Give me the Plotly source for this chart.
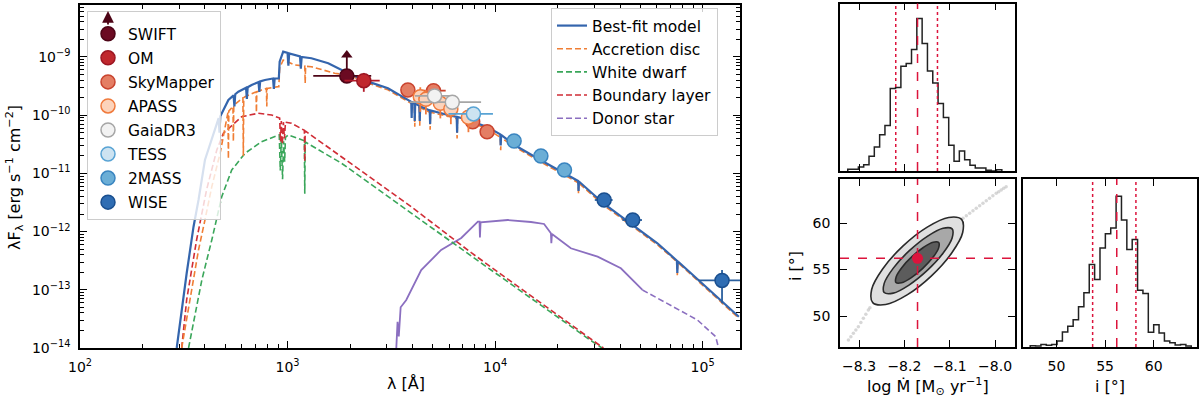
import numpy as np
import plotly.graph_objects as go

W, H = 1200, 398
FONT = "DejaVu Sans"

# ---------------- photometry: wavelength [A], lambda*F_lambda [erg s-1 cm-2] ----------------
swift_wl = [1930]
swift_flux = [4.72e-10]
swift_wl_err = [600]
swift_limit_top = [1.08e-9]

om_wl = [2330]
om_flux = [3.92e-10]
om_wl_err = [450]
om_flux_err = [1.4e-10]

skymapper_wl = [3800, 5050, 7800, 9150]
skymapper_flux = [2.71e-10, 2.64e-10, 7.7e-11, 5.2e-11]
skymapper_wl_err = [0, 730, 0, 0]
skymapper_flux_err = [2.5e-11, 2.5e-11, 8e-12, 6e-12]

apass_wl = [4361, 4640, 5448, 6122, 7439]
apass_flux = [2.08e-10, 1.87e-10, 1.60e-10, 1.28e-10, 9.2e-11]
apass_flux_err = [0.94e-10, 0.84e-10, 0.72e-10, 0.58e-10, 0.41e-10]

gaia_wl = [5110, 6220]
gaia_flux = [2.14e-10, 1.67e-10]
gaia_wl_err = [1000, 2340]

tess_wl = [7865]
tess_flux = [1.05e-10]
tess_wl_err = [1900]

twomass_wl = [12350, 16620, 21590]
twomass_flux = [3.6e-11, 1.99e-11, 1.14e-11]
twomass_flux_err = [2.0e-12, 1.2e-12, 8e-13]

wise_wl = [33530, 46030, 124000]
wise_flux = [3.49e-12, 1.58e-12, 1.45e-13]
wise_wl_err = [3300, 5000, 29000]
wise_flux_err_up = [2e-13, 1.5e-13, 7.4e-14]
wise_flux_err_down = [2e-13, 1.5e-13, 8.6e-14]

# ---------------- model components (log10 wavelength, log10 flux) ----------------
bestfit_logwl = [2.466, 2.490, 2.514, 2.547, 2.571, 2.602, 2.650, 2.668, 2.672, 2.676, 2.691, 2.715,
                 2.740, 2.744, 2.748, 2.763, 2.800, 2.804, 2.808, 2.827, 2.860, 2.864, 2.868, 2.891,
                 2.930, 2.934, 2.938, 2.955, 2.958, 2.962, 2.979, 3.000, 3.004, 3.008, 3.035, 3.060,
                 3.064, 3.068, 3.115, 3.196, 3.292, 3.388, 3.484, 3.564, 3.596, 3.598, 3.600, 3.611,
                 3.613, 3.615, 3.635, 3.637, 3.639, 3.644, 3.685, 3.687, 3.689, 3.773, 3.815, 3.817,
                 3.819, 3.869, 3.933, 3.965, 4.025, 4.027, 4.029, 4.093, 4.218, 4.3365, 4.400, 4.402,
                 4.404, 4.5255, 4.667, 4.782, 4.876, 4.878, 4.880, 5.1745]
bestfit_logflux = [-14.0, -13.347, -12.716, -11.916, -11.457, -10.770, -10.254, -10.05, -10.30, -10.02, -9.911, -9.739,
                   -9.66, -9.85, -9.64, -9.596, -9.53, -9.72, -9.52, -9.481, -9.43, -9.60, -9.42, -9.395,
                   -9.37, -9.55, -9.37, -9.366, -9.37, -9.08, -8.909, -8.93, -9.15, -8.94, -8.966, -8.99,
                   -9.20, -9.00, -9.022, -9.108, -9.280, -9.424, -9.538, -9.710, -9.77, -10.05, -9.77, -9.80,
                   -10.10, -9.80, -9.84, -10.10, -9.84, -9.854, -9.92, -10.15, -9.92, -9.997, -10.03, -10.30,
                   -10.03, -10.082, -10.168, -10.208, -10.33, -10.52, -10.34, -10.512, -10.770, -11.010, -11.13, -11.30,
                   -11.14, -11.526, -11.904, -12.201, -12.50, -12.71, -12.51, -13.462]

disc_logwl = [2.490, 2.514, 2.547, 2.571, 2.602, 2.635, 2.675, 2.699, 2.713, 2.715, 2.717, 2.737,
              2.739, 2.741, 2.785, 2.787, 2.789, 2.795, 2.848, 2.850, 2.852, 2.875, 2.898, 2.900,
              2.902, 2.955, 2.958, 2.962, 2.979, 3.035, 3.083, 3.085, 3.087, 3.115, 3.227, 3.292,
              3.388, 3.484, 3.564, 3.611, 3.613, 3.615, 3.635, 3.637, 3.639, 3.644, 3.685, 3.687,
              3.689, 3.773, 3.815, 3.817, 3.819, 3.869, 3.933, 3.965, 4.025, 4.027, 4.029, 4.093,
              4.218, 4.3365, 4.400, 4.402, 4.404, 4.5255, 4.667, 4.782, 4.876, 4.878, 4.880, 5.1745]
disc_logflux = [-14.0, -13.519, -12.832, -12.316, -11.801, -11.229, -10.655, -10.198, -9.95, -10.75, -9.93, -9.85,
                -10.45, -9.83, -9.70, -10.70, -9.70, -9.682, -9.60, -9.95, -9.60, -9.567, -9.54, -9.85,
                -9.54, -9.510, -9.51, -9.19, -9.052, -9.137, -9.155, -9.45, -9.16, -9.167, -9.280, -9.31,
                -9.45, -9.565, -9.735, -9.83, -10.20, -9.83, -9.87, -10.18, -9.87, -9.88, -9.95, -10.25,
                -9.95, -10.02, -10.06, -10.40, -10.06, -10.105, -10.20, -10.24, -10.38, -10.60, -10.39, -10.54,
                -10.80, -11.04, -11.16, -11.35, -11.17, -11.555, -11.93, -12.225, -12.52, -12.75, -12.53, -13.49]

wd_logwl = [2.523, 2.554, 2.587, 2.635, 2.683, 2.731, 2.795, 2.875, 2.955, 2.960, 2.965, 2.970,
            2.976, 2.981, 2.986, 2.990, 3.003, 3.081, 3.083, 3.085, 3.260, 3.596, 3.885, 4.446, 4.515]
wd_logflux = [-14.0, -13.404, -12.832, -12.144, -11.40, -10.942, -10.655, -10.455, -10.34, -10.34, -10.95, -10.40,
              -11.10, -10.45, -10.80, -10.38, -10.34, -10.44, -11.35, -10.46, -10.826, -11.686, -12.419, -13.833, -14.0]

bl_logwl = [2.490, 2.514, 2.562, 2.610, 2.659, 2.691, 2.779, 2.859, 2.923, 2.955, 2.962, 2.966,
            2.970, 2.975, 2.980, 2.985, 2.990, 3.019, 3.081, 3.083, 3.085, 3.596, 3.885, 4.446, 4.522]
bl_logflux = [-14.0, -13.17, -12.14, -11.28, -10.60, -10.311, -10.026, -9.967, -9.997, -10.05, -10.05, -10.45,
              -10.10, -10.50, -10.12, -10.40, -10.12, -10.14, -10.26, -10.80, -10.27, -11.572, -12.363, -13.806, -14.0]

donor_logwl = [3.524, 3.530, 3.536, 3.545, 3.572, 3.644, 3.740, 3.837, 3.917, 3.925, 3.927, 3.930, 4.061, 4.173,
               4.236, 4.269, 4.271, 4.274, 4.365, 4.494, 4.606, 4.686, 4.710]
donor_logflux = [-14.0, -13.55, -13.80, -13.30, -13.175, -12.660, -12.316, -12.110, -11.830, -11.83, -12.10, -11.84,
                 -11.801, -11.835, -11.869, -12.029, -12.20, -12.04, -12.287, -12.431, -12.631, -12.918, -13.003]
donor_ext_logwl = [4.710, 4.846, 4.975, 5.063, 5.078]
donor_ext_logflux = [-13.003, -13.261, -13.519, -13.806, -14.02]

# ---------------- posterior (corner plot) ----------------
mdot_hist_start = -8.3249
mdot_hist_width = 0.01172
mdot_hist_counts = [5, 5, 12, 19, 44, 72, 109, 136, 247, 250, 314, 322, 364, 457, 382,
                    300, 264, 202, 160, 77, 29, 60, 34, 17, 9, 9, 2, 0, 4]
incl_hist_start = 47.3
incl_hist_width = 0.552
incl_hist_counts = [4, 3, 8, 5, 8, 18, 46, 63, 83, 123, 166, 252, 206, 302, 346,
                    363, 460, 388, 298, 328, 173, 163, 45, 68, 43, 18, 13, 6, 8, 3]

mdot_median, mdot_lo, mdot_hi = -8.171, -8.219, -8.127
incl_median, incl_lo, incl_hi = 56.2, 53.72, 58.17

outer_mdot = [-8.0738, -8.0714, -8.0960, -8.1408, -8.1940, -8.2412, -8.2698, -8.2722, -8.2476, -8.2028, -8.1496, -8.1024, -8.0738]
outer_incl = [60.39, 58.98, 56.75, 54.29, 52.27, 51.23, 51.44, 52.85, 55.08, 57.54, 59.56, 60.60, 60.39]
mid_mdot = [-8.0947, -8.0947, -8.1148, -8.1496, -8.1898, -8.2245, -8.2445, -8.2445, -8.2244, -8.1896, -8.1494, -8.1147, -8.0947]
mid_incl = [59.37, 58.39, 56.75, 54.90, 53.33, 52.46, 52.53, 53.51, 55.15, 57.00, 58.57, 59.44, 59.37]
inner_mdot = [-8.1243, -8.1246, -8.1374, -8.1594, -8.1846, -8.2062, -8.2185, -8.2182, -8.2054, -8.1834, -8.1582, -8.1366, -8.1243]
inner_incl = [57.90, 57.30, 56.28, 55.13, 54.13, 53.58, 53.60, 54.20, 55.22, 56.38, 57.37, 57.93, 57.90]

tail_mdot = [-8.3234, -8.3180, -8.3125, -8.3070, -8.3015, -8.2960, -8.2905, -8.2850, -8.2795, -8.2760,
             -8.0707, -8.0634, -8.0560, -8.0487, -8.0414, -8.0340, -8.0267, -8.0194, -8.0121,
             -8.0048, -7.9974, -7.9919, -7.9864, -7.9810, -7.9755]
tail_incl = [47.42, 47.78, 48.14, 48.50, 48.85, 49.30, 49.75, 50.20, 50.65, 50.90,
             60.50, 60.77, 61.04, 61.31, 61.58, 61.85, 62.11, 62.38, 62.65,
             62.92, 63.19, 63.37, 63.55, 63.73, 63.91]

fig = go.Figure()

# model curves
def model(logwl, logflux, name, color, dash, rank, show=True, width=1.6):
    fig.add_trace(go.Scatter(x=10 ** np.array(logwl), y=10 ** np.array(logflux), mode="lines",
                             name=name, legend="legend2", legendrank=rank, showlegend=show,
                             line=dict(color=color, width=width, dash=dash),
                             xaxis="x", yaxis="y", hoverinfo="skip"))

model(donor_logwl, donor_logflux, "Donor star", "#8b6fc0", "solid", 5, show=False, width=1.8)
model(donor_ext_logwl, donor_ext_logflux, "Donor star", "#8b6fc0", "6px,3px", 5)
model(wd_logwl, wd_logflux, "White dwarf", "#3aa65a", "6px,3px", 3)
model(bl_logwl, bl_logflux, "Boundary layer", "#d02d36", "6px,3px", 4)
model(disc_logwl, disc_logflux, "Accretion disc", "#f07e35", "6px,3px", 2)
model(bestfit_logwl, bestfit_logflux, "Best-fit model", "#3465ad", "solid", 1, width=2.2)

# photometry
def phot(name, wl, fl, fill, edge, ecol, rank, ex=None, ey=None, eym=None):
    kw = dict(x=wl, y=fl, mode="markers", name=name, legend="legend", legendrank=rank, legendgroup=name,
              marker=dict(size=14, color=fill, line=dict(color=edge, width=1.5)),
              xaxis="x", yaxis="y")
    if ex is not None:
        kw["error_x"] = dict(type="data", array=ex, color=ecol, thickness=1.8, width=0)
    if ey is not None:
        kw["error_y"] = dict(type="data", array=ey, arrayminus=eym if eym is not None else ey,
                             color=ecol, thickness=1.8, width=0)
    fig.add_trace(go.Scatter(**kw))

fig.add_trace(go.Scatter(x=swift_wl * 2, y=[swift_flux[0], swift_limit_top[0]], mode="lines",
                         line=dict(color="#4d0416", width=1.8), showlegend=False, xaxis="x", yaxis="y"))
fig.add_trace(go.Scatter(x=swift_wl, y=swift_limit_top, mode="markers", showlegend=False,
                         marker=dict(symbol="triangle-up", size=10, color="#4d0416"), xaxis="x", yaxis="y"))
phot("SWIFT", swift_wl, swift_flux, "#6b0a22", "#4d0416", "#4d0416", 1, ex=swift_wl_err)
phot("OM", om_wl, om_flux, "#c0282e", "#9c1622", "#b31b2a", 2, ex=om_wl_err, ey=om_flux_err)
phot("SkyMapper", skymapper_wl, skymapper_flux, "#e47e64", "#c9432e", "#c9432e", 3,
     ex=skymapper_wl_err, ey=skymapper_flux_err)
phot("APASS", apass_wl, apass_flux, "#fcd3bb", "#f07a3c", "#f07a3c", 4, ey=apass_flux_err)
phot("GaiaDR3", gaia_wl, gaia_flux, "#f2f2f2", "#a6a6a6", "#a6a6a6", 5, ex=gaia_wl_err)
phot("TESS", tess_wl, tess_flux, "#cde3f1", "#58a3d4", "#58a3d4", 6, ex=tess_wl_err)
phot("2MASS", twomass_wl, twomass_flux, "#6baed6", "#3a85c0", "#3a85c0", 7, ey=twomass_flux_err)
phot("WISE", wise_wl, wise_flux, "#2f6db3", "#1a4f8f", "#2a5f9e", 8, ex=wise_wl_err,
     ey=wise_flux_err_up, eym=wise_flux_err_down)

# histograms as steps
def step_hist(start, width, counts, xa, ya):
    edges = start + width * np.arange(len(counts) + 1)
    xs = [edges[0]] + list(edges[:-1]) + [edges[-1], edges[-1]]
    ys = [0] + list(counts) + [counts[-1], 0]
    fig.add_trace(go.Scatter(x=xs, y=ys, mode="lines", line=dict(color="#222222", width=1.5, shape="hv"),
                             showlegend=False, xaxis=xa, yaxis=ya, hoverinfo="skip"))

step_hist(mdot_hist_start, mdot_hist_width, mdot_hist_counts, "x2", "y2")
step_hist(incl_hist_start, incl_hist_width, incl_hist_counts, "x4", "y4")

# 2D posterior
fig.add_trace(go.Scatter(x=tail_mdot, y=tail_incl, mode="markers", showlegend=False,
                         marker=dict(size=3.5, color="rgba(140,140,140,0.35)"), xaxis="x3", yaxis="y3"))
for cx, cy, fillc in [(outer_mdot, outer_incl, "rgba(0,0,0,0.12)"),
                      (mid_mdot, mid_incl, "rgba(0,0,0,0.25)"),
                      (inner_mdot, inner_incl, "rgba(0,0,0,0.45)")]:
    fig.add_trace(go.Scatter(x=cx, y=cy, mode="lines", fill="toself", fillcolor=fillc,
                             line=dict(color="#2a2a2a", width=1.6, shape="spline", smoothing=1.0),
                             showlegend=False, xaxis="x3", yaxis="y3", hoverinfo="skip"))
fig.add_trace(go.Scatter(x=[mdot_median], y=[incl_median], mode="markers", showlegend=False,
                         marker=dict(size=11, color="crimson"), xaxis="x3", yaxis="y3"))

shapes = []
def vline(x, xa, ya, dash):
    shapes.append(dict(type="line", xref=xa, yref=ya + " domain", x0=x, x1=x, y0=0, y1=1,
                       line=dict(color="crimson", width=1.5, dash=dash)))

for v, d in [(mdot_median, "dash"), (mdot_lo, "dot"), (mdot_hi, "dot")]:
    vline(v, "x2", "y2", d)
for v, d in [(incl_median, "dash"), (incl_lo, "dot"), (incl_hi, "dot")]:
    vline(v, "x4", "y4", d)
vline(mdot_median, "x3", "y3", "dash")
shapes.append(dict(type="line", xref="x3 domain", yref="y3", x0=0, x1=1, y0=incl_median, y1=incl_median,
                   line=dict(color="crimson", width=1.5, dash="dash")))

def dom_x(a, b):
    return [a / W, b / W]

def dom_y(top, bottom):
    return [1 - bottom / H, 1 - top / H]

frame = dict(showline=True, linecolor="black", linewidth=1.5, mirror="allticks", ticks="inside",
             ticklen=7, tickwidth=1.3, tickcolor="black", showgrid=False, zeroline=False, automargin=False,
             tickfont=dict(family=FONT, size=14, color="black"), ticklabelstandoff=5)

decade_minor_x = [m * 10 ** e for e in range(2, 6) for m in range(2, 10)]
decade_minor_y = [m * 10.0 ** e for e in range(-14, -8) for m in range(2, 10)]
minor = dict(ticks="inside", ticklen=4, tickwidth=1, tickcolor="black")

legend_style = dict(xanchor="left", yanchor="top", bgcolor="rgba(255,255,255,0.8)",
                    bordercolor="#cccccc", borderwidth=1,
                    font=dict(family=FONT, size=15.5, color="black"))

fig.update_layout(
    width=W, height=H, margin=dict(l=0, r=0, t=0, b=0, autoexpand=False),
    paper_bgcolor="white", plot_bgcolor="white",
    font=dict(family=FONT, color="black"),
    xaxis=dict(frame, type="log", domain=dom_x(80, 740), anchor="y", range=[2, 5.18],
               tickvals=[1e2, 1e3, 1e4, 1e5],
               ticktext=["10<sup>2</sup>", "10<sup>3</sup>", "10<sup>4</sup>", "10<sup>5</sup>"],
               minor=dict(minor, tickvals=decade_minor_x)),
    yaxis=dict(frame, type="log", domain=dom_y(5, 348), anchor="x", range=[-14, -8.107],
               tickvals=[1e-14, 1e-13, 1e-12, 1e-11, 1e-10, 1e-9],
               ticktext=["10<sup>−14</sup>", "10<sup>−13</sup>", "10<sup>−12</sup>",
                         "10<sup>−11</sup>", "10<sup>−10</sup>", "10<sup>−9</sup>"],
               minor=dict(minor, tickvals=decade_minor_y)),
    xaxis2=dict(frame, domain=dom_x(840, 1015), anchor="y2", range=[-8.342, -7.956],
                tickvals=[-8.3, -8.2, -8.1, -8.0], showticklabels=False),
    yaxis2=dict(frame, domain=dom_y(3.5, 171), anchor="x2", range=[0, 502], ticks="", showticklabels=False),
    xaxis3=dict(frame, domain=dom_x(840, 1015), anchor="y3", range=[-8.342, -7.956],
                tickvals=[-8.3, -8.2, -8.1, -8.0], ticktext=["−8.3", "−8.2", "−8.1", "−8.0"]),
    yaxis3=dict(frame, domain=dom_y(179, 347), anchor="x3", range=[46.67, 64.73],
                tickvals=[50, 55, 60], ticktext=["50", "55", "60"]),
    xaxis4=dict(frame, domain=dom_x(1023, 1197), anchor="y4", range=[46.56, 64.45],
                tickvals=[50, 55, 60], ticktext=["50", "55", "60"]),
    yaxis4=dict(frame, domain=dom_y(179, 347), anchor="x4", range=[0, 513], ticks="", showticklabels=False),
    legend=dict(legend_style, x=87 / W, y=1 - 11 / H, traceorder="grouped", tracegroupgap=0.9,
                title=dict(text=" ", font=dict(size=4))),
    legend2=dict(legend_style, x=551 / W, y=1 - 8 / H, traceorder="normal"),
    shapes=shapes,
    showlegend=True,
)

ann = dict(xref="paper", yref="paper", showarrow=False, font=dict(family=FONT, size=16, color="black"))
fig.add_annotation(ann, text="λ [Å]", x=406 / W, y=1 - 383 / H, xanchor="center", yanchor="middle")
fig.add_annotation(ann, text="λF<sub>λ</sub> [erg s<sup>−1</sup> cm<sup>−2</sup>]", x=14 / W, y=1 - 178 / H,
                   textangle=-90, xanchor="center", yanchor="middle")
fig.add_annotation(ann, text="log Ṁ [M<sub>⊙</sub> yr<sup>−1</sup>]", x=928 / W, y=1 - 386 / H,
                   xanchor="center", yanchor="middle")
fig.add_annotation(ann, text="i [°]", x=1110 / W, y=1 - 386 / H, xanchor="center", yanchor="middle")
fig.add_annotation(ann, text="i [°]", x=795 / W, y=1 - 266 / H, textangle=-90,
                   xanchor="center", yanchor="middle")
# upward arrow on the SWIFT legend entry (lower limit)
fig.add_annotation(xref="paper", yref="paper", x=108 / W, y=1 - 11 / H, ax=0, ay=15, text="",
                   showarrow=True, arrowhead=2, arrowsize=1.3, arrowwidth=1.8, arrowcolor="#4d0416")

fig.write_html("out.html", config={"displayModeBar": False},
               post_script="document.body.style.margin='0px';")
